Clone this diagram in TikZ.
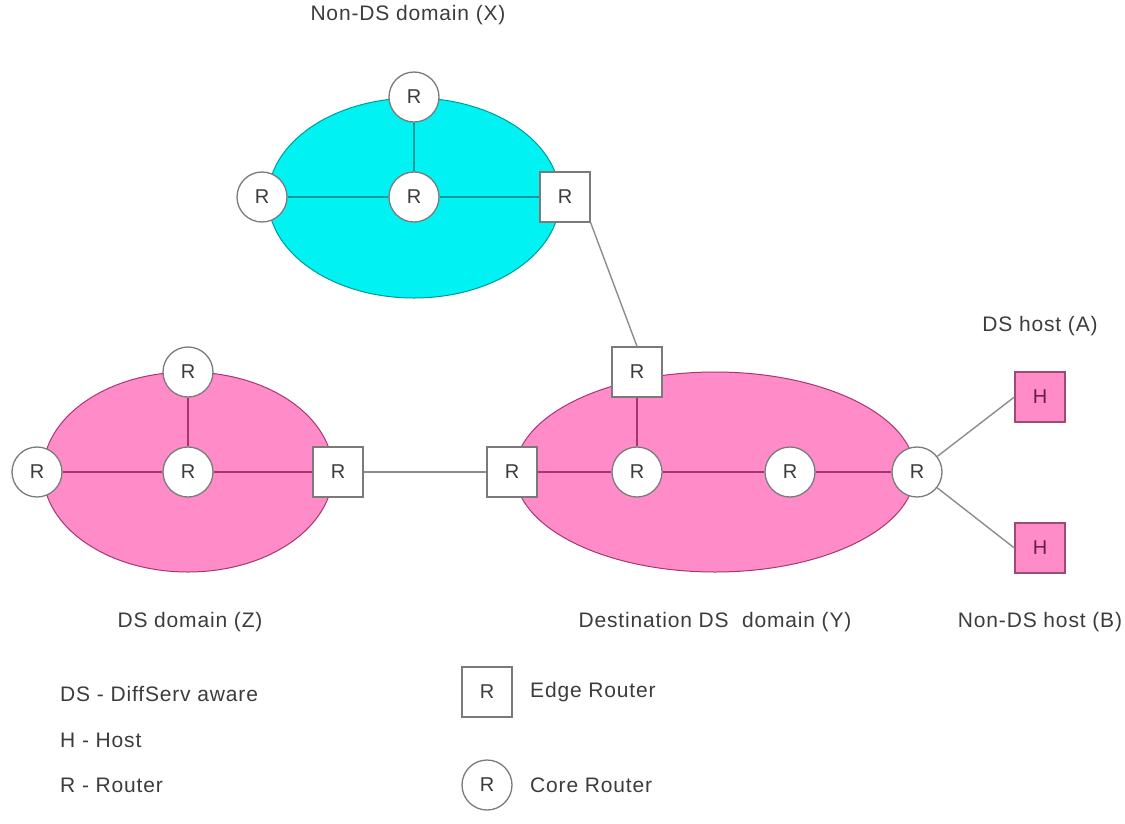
\documentclass[tikz,border=0pt]{standalone}
\usepackage{fontspec}
\setmainfont{Liberation Sans}
\newfontfamily\spaced[LetterSpace=4]{Liberation Sans}
\usetikzlibrary{shapes.geometric}
\definecolor{dsink}{HTML}{3C3C3C}
\definecolor{cyanfill}{HTML}{00F2F2}
\definecolor{cyanline}{HTML}{009A9A}
\definecolor{pinkfill}{HTML}{FF8CC8}
\definecolor{pinkline}{HTML}{A8366E}
\definecolor{hostink}{HTML}{6B1F4F}
\definecolor{wire}{HTML}{8C8C8C}
\definecolor{rim}{HTML}{7A7A7A}
\tikzset{
  every node/.style={font=\fontsize{20}{24}\selectfont, text=dsink},
  core/.style={circle, draw=rim, fill=white, line width=1.3pt, minimum size=50pt, inner sep=0pt},
  edge/.style={rectangle, draw=rim, fill=white, line width=1.3pt, minimum size=50pt, inner sep=0pt},
  host/.style={rectangle, draw=pinkline!70!gray, fill=pinkfill, line width=1.3pt, minimum size=50pt, inner sep=0pt, text=hostink},
  cyandom/.style={ellipse, draw=cyanline, fill=cyanfill, line width=1pt, minimum width=292pt, minimum height=200pt},
  pinkdom/.style={ellipse, draw=pinkline, fill=pinkfill, line width=1pt},
  cyanlink/.style={draw=cyanline, line width=2pt},
  pinklink/.style={draw=pinkline, line width=1.6pt},
  wirelink/.style={draw=wire, line width=1.4pt},
  caption/.style={inner sep=0pt, font=\spaced\fontsize{21}{25}\selectfont},
  legend/.style={caption, anchor=west}
}
\begin{document}
\begin{tikzpicture}[x=1pt, y=-1pt]
\useasboundingbox (0,0) rectangle (1125,823);

% Non-DS domain (X)
\node[cyandom] (dx) at (414,198) {};
\node[core] (xt) at (414,97) {R};
\node[core] (xl) at (262,197) {R};
\node[core] (xc) at (414,197) {R};
\node[edge] (xe) at (565,197) {R};
\draw[cyanlink] (xt) -- (xc);
\draw[cyanlink] (xl) -- (xc);
\draw[cyanlink] (xc) -- (xe);
\node[caption] (lx) at (408,15) {Non-DS domain (X)};

% DS domain (Z)
\node[pinkdom, minimum width=290pt, minimum height=200pt] (dz) at (188,472) {};
\node[core] (zt) at (188,372) {R};
\node[core] (zl) at (37,472) {R};
\node[core] (zc) at (188,472) {R};
\node[edge] (ze) at (338,472) {R};
\draw[pinklink] (zt) -- (zc);
\draw[pinklink] (zl) -- (zc);
\draw[pinklink] (zc) -- (ze);
\node[caption] (lz) at (190,622) {DS domain (Z)};

% Destination DS domain (Y)
\node[pinkdom, minimum width=400pt, minimum height=200pt] (dy) at (715,472) {};
\node[edge] (yt) at (637,372) {R};
\node[edge] (yl) at (512,472) {R};
\node[core] (yc) at (637,472) {R};
\node[core] (ym) at (790,472) {R};
\node[core] (yr) at (917,472) {R};
\draw[pinklink] (yt) -- (yc);
\draw[pinklink] (yl) -- (yc);
\draw[pinklink] (yc) -- (ym);
\draw[pinklink] (ym) -- (yr);
\node[caption] (ly) at (715,622) {Destination DS\ \ domain (Y)};

% Hosts
\node[host] (ha) at (1040,397) {H};
\node[host] (hb) at (1040,548) {H};
\node[caption] (la) at (1040,326) {DS host (A)};
\node[caption] (lb) at (1040,622) {Non-DS host (B)};

% Links between domains and to hosts
\draw[wirelink] (xe.south east) -- (yt.north);
\draw[wirelink] (ze) -- (yl);
\draw[wirelink] (yr) -- (ha.west);
\draw[wirelink] (yr) -- (hb.west);

% Legend
\node[legend] (k1) at (60,694) {DS - DiffServ aware};
\node[legend] (k2) at (60,740) {H - Host};
\node[legend] (k3) at (60,785) {R - Router};
\node[edge] (ke) at (487,692) {R};
\node[core] (kc) at (487,785) {R};
\node[legend] (ket) at (530,692) {Edge Router};
\node[legend] (kct) at (530,785) {Core Router};
\end{tikzpicture}
\end{document}
